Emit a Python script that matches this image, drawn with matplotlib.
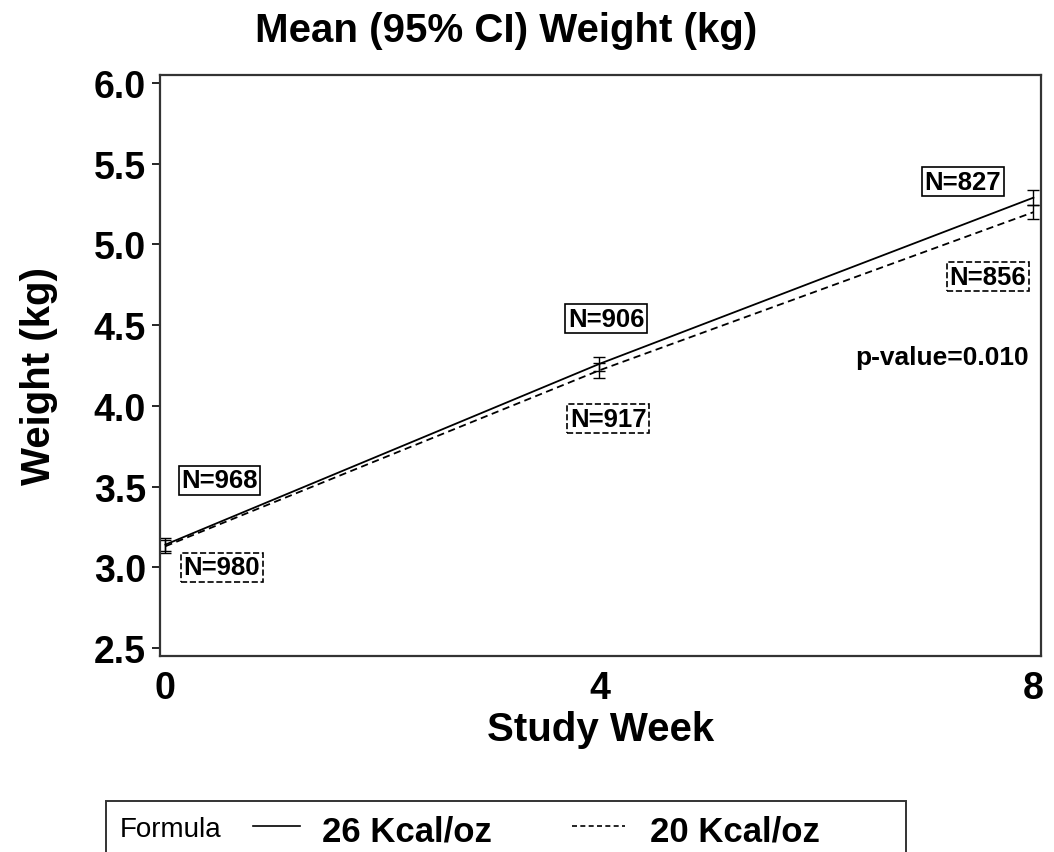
import matplotlib
matplotlib.use("Agg")
import matplotlib.pyplot as plt
from matplotlib.lines import Line2D
from matplotlib.patches import Rectangle

plt.rcParams['font.family'] = ['Liberation Sans', 'DejaVu Sans']

# data
weeks = [0, 4, 8]
mean_26 = [3.14, 4.26, 5.29]
ci_26 = [0.04, 0.045, 0.045]
mean_20 = [3.13, 4.22, 5.20]
ci_20 = [0.04, 0.045, 0.045]
n_26 = ["N=968", "N=906", "N=827"]
n_20 = ["N=980", "N=917", "N=856"]
n_26_pos = [(0.50, 3.54), (4.06, 4.54), (7.35, 5.39)]
n_20_pos = [(0.52, 3.00), (4.08, 3.92), (7.58, 4.80)]
p_text = "p-value=0.010"
p_pos = (7.16, 4.30)
yticks = [2.5, 3.0, 3.5, 4.0, 4.5, 5.0, 5.5, 6.0]
xticks = [0, 4, 8]

fig = plt.figure(figsize=(10.54, 8.53), dpi=100)
ax = fig.add_axes([0.1518, 0.2298, 0.8359, 0.6811])

ax.errorbar(weeks, mean_26, yerr=ci_26, color="black", lw=1.3, ls="-",
            capsize=4, elinewidth=1.0, capthick=1.0)
ax.errorbar(weeks, mean_20, yerr=ci_20, color="black", lw=1.3, ls=(0, (4, 2.5)),
            capsize=4, elinewidth=1.0, capthick=1.0)

for txt, (x, y) in zip(n_26, n_26_pos):
    ax.text(x, y, txt, fontsize=18.5, fontweight="bold", ha="center", va="center",
            bbox=dict(boxstyle="square,pad=0.1", fc="white", ec="black", lw=1.2))
for txt, (x, y) in zip(n_20, n_20_pos):
    ax.text(x, y, txt, fontsize=18.5, fontweight="bold", ha="center", va="center",
            bbox=dict(boxstyle="square,pad=0.1", fc="white", ec="black", lw=1.2, ls="--"))
ax.text(p_pos[0], p_pos[1], p_text, fontsize=19, fontweight="bold", ha="center", va="center")

ax.set_xlim(-0.05, 8.07)
ax.set_ylim(2.45, 6.05)
ax.set_xticks(xticks)
ax.set_yticks(yticks)
ax.set_yticklabels([f"{v:.1f}" for v in yticks])
ax.tick_params(axis="y", length=6, width=1.2, pad=4, labelsize=27)
ax.tick_params(axis="x", length=0, pad=10, labelsize=27)
for lab in ax.get_xticklabels() + ax.get_yticklabels():
    lab.set_fontweight("bold")
for sp in ax.spines.values():
    sp.set_linewidth(1.6)
    sp.set_color("#333333")

ax.set_xlabel("Study Week", fontsize=29, fontweight="bold", labelpad=3)
ax.set_ylabel("Weight (kg)", fontsize=29, fontweight="bold")
ax.yaxis.set_label_coords(-0.116, 0.484)
fig.text(0.48, 1 - 42 / 853, "Mean (95% CI) Weight (kg)", fontsize=29, fontweight="bold",
         ha="center", va="baseline")

# legend box at the bottom (cut off by the figure edge)
fig.patches.append(Rectangle((0.1006, -0.05), 0.759, 0.1098, transform=fig.transFigure,
                             fc="white", ec="#333333", lw=1.4))
ly = 1 - 827 / 853
fig.text(0.1139, 1 - 837 / 853, "Formula", fontsize=20, ha="left", va="baseline")
fig.add_artist(Line2D([0.240, 0.2846], [ly, ly], color="black", lw=1.2, transform=fig.transFigure))
fig.text(0.3055, 1 - 842 / 853, "26 Kcal/oz", fontsize=25, fontweight="bold", ha="left", va="baseline")
fig.add_artist(Line2D([0.5427, 0.593], [ly, ly], color="black", lw=1.2, ls=(0, (3, 2)),
                      transform=fig.transFigure))
fig.text(0.6167, 1 - 842 / 853, "20 Kcal/oz", fontsize=25, fontweight="bold", ha="left", va="baseline")

fig.savefig("out.png", dpi=100)
